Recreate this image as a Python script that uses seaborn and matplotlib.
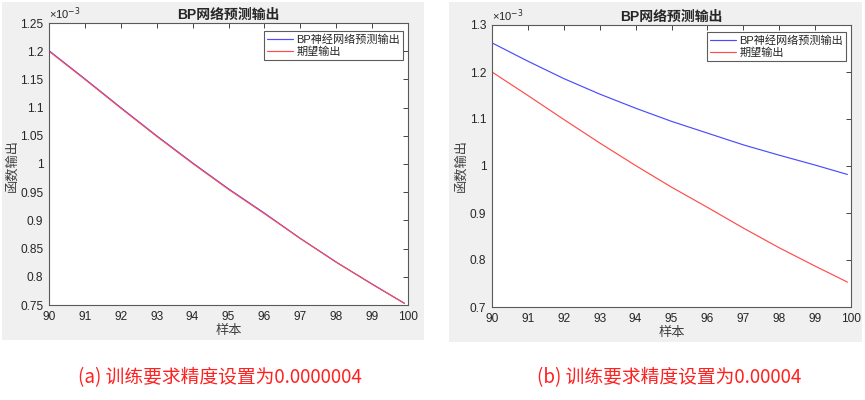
import numpy as np
import pandas as pd
import matplotlib
matplotlib.use("Agg")
import matplotlib.pyplot as plt
import seaborn as sns
from matplotlib.patches import Rectangle

# samples on the x axis (the curves stop just short of 100)
samples = [90, 91, 92, 93, 94, 95, 96, 97, 98, 99, 99.9]
xticks = [90, 91, 92, 93, 94, 95, 96, 97, 98, 99, 100]

# expected output (same in both runs), units of 1e-3
expected = [1.200, 1.150, 1.099, 1.049, 1.001, 0.955, 0.912, 0.868, 0.826, 0.787, 0.753]
# BP prediction, accuracy 0.0000004 (almost on top of the expected curve)
bp_a = [1.201, 1.151, 1.100, 1.050, 1.002, 0.956, 0.913, 0.868, 0.826, 0.787, 0.753]
# BP prediction, accuracy 0.00004
bp_b = [1.262, 1.223, 1.186, 1.153, 1.123, 1.095, 1.070, 1.045, 1.023, 1.002, 0.982]

yticks_a = [0.75, 0.8, 0.85, 0.9, 0.95, 1, 1.05, 1.1, 1.15, 1.2, 1.25]
yticks_b = [0.7, 0.8, 0.9, 1.0, 1.1, 1.2, 1.3]
ytick_labels_a = ["0.75", "0.8", "0.85", "0.9", "0.95", "1", "1.05", "1.1", "1.15", "1.2", "1.25"]
ytick_labels_b = ["0.7", "0.8", "0.9", "1", "1.1", "1.2", "1.3"]

series_names = ["BP神经网络预测输出", "期望输出"]
captions = ["(a) 训练要求精度设置为0.0000004", "(b) 训练要求精度设置为0.00004"]

sns.set_style("white")
plt.rcParams["font.family"] = ["Liberation Sans", "Noto Sans CJK SC", "DejaVu Sans"]
plt.rcParams["axes.unicode_minus"] = False

W, H = 865, 400
fig = plt.figure(figsize=(W / 100, H / 100), dpi=100)
fig.patch.set_facecolor("white")

def px_rect(x0, y0, x1, y1):
    return [x0 / W, (H - y1) / H, (x1 - x0) / W, (y1 - y0) / H]

# gray MATLAB figure backgrounds
for (x0, y0, x1, y1) in [(2, 2, 424, 340), (449, 2, 862, 342)]:
    l, b, w, h = px_rect(x0, y0, x1, y1)
    fig.patches.append(Rectangle((l, b), w, h, transform=fig.transFigure,
                                 facecolor="#f0f0f0", edgecolor="none", zorder=-5))

axes_px = [(49, 23, 408, 305), (492, 25, 851, 307)]
bp_sets = [bp_a, bp_b]
ylims = [(0.75, 1.25), (0.7, 1.3)]
ytick_sets = [(yticks_a, ytick_labels_a), (yticks_b, ytick_labels_b)]
ylabel_x = [12, 461]
caption_x = [220, 669]
legend_px = [(264, 31), (707, 32)]

dark = "#262626"
for i in range(2):
    ax = fig.add_axes(px_rect(*axes_px[i]))
    ax.set_zorder(2)
    ax.set_facecolor("white")
    df = pd.DataFrame({
        "样本": samples * 2,
        "val": bp_sets[i] + expected,
        "series": [series_names[0]] * len(samples) + [series_names[1]] * len(samples),
    })
    sns.lineplot(data=df, x="样本", y="val", hue="series",
                 palette={series_names[0]: "#4b4bff", series_names[1]: "#ff4b4b"},
                 linewidth=0.85, ax=ax)
    ax.set_xlim(90, 100)
    ax.set_ylim(*ylims[i])
    ax.set_xticks(xticks)
    ax.set_xticklabels([str(s) for s in xticks])
    ax.set_yticks(ytick_sets[i][0])
    ax.set_yticklabels(ytick_sets[i][1])
    ax.tick_params(direction="in", length=3.5, width=0.6, top=True, right=True,
                   labelsize=8.6, colors=dark, pad=4)
    for sp in ax.spines.values():
        sp.set_color("#5a5a5a")
        sp.set_linewidth(0.8)
    ax.set_xlabel("样本", fontsize=9.5, color="#404040", labelpad=2)
    ax.set_ylabel("")
    ax.set_title("BP网络预测输出", fontsize=10, fontweight="bold", color=dark, pad=3)
    ax.text(0.0, 1.005, "×10$^{-3}$", transform=ax.transAxes, fontsize=8,
            color=dark, ha="left", va="bottom")
    # legend in the top-right corner
    lx, ly = legend_px[i]
    leg = ax.legend(loc="upper left",
                    bbox_to_anchor=((lx - axes_px[i][0]) / (axes_px[i][2] - axes_px[i][0]),
                                    1 - (ly - axes_px[i][1]) / (axes_px[i][3] - axes_px[i][1])),
                    fontsize=8, frameon=True, fancybox=False, handlelength=2.3,
                    borderpad=0.3, labelspacing=0.15, handletextpad=0.3, borderaxespad=0)
    leg.get_frame().set_edgecolor("#333333")
    leg.get_frame().set_linewidth(0.8)
    for t in leg.get_texts():
        t.set_color(dark)
    fig.text(ylabel_x[i] / W, 1 - 165 / H, "函数输出", rotation=90, fontsize=9.5,
             color="#404040", ha="center", va="center")
    fig.text(caption_x[i] / W, 1 - 378 / H, captions[i], fontsize=13.5, color="#ff2020",
             ha="center", va="center", family=["Noto Sans CJK SC", "DejaVu Sans"])

fig.savefig("out.png", dpi=100)
